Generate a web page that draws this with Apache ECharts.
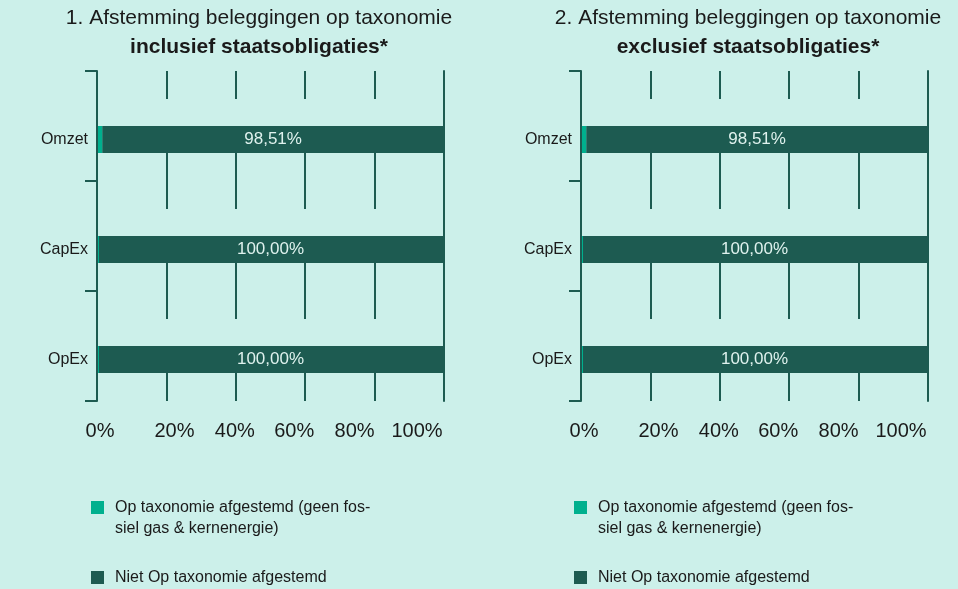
<!DOCTYPE html>
<html>
<head>
<meta charset="utf-8">
<script src="https://cdn.jsdelivr.net/npm/echarts@6/dist/echarts.min.js"></script>
<style>
html,body{margin:0;padding:0;background:#ccf0ea;}
#c{width:958px;height:589px;}
</style>
</head>
<body>
<div id="c"></div>
<script>
var categories = ['Omzet', 'CapEx', 'OpEx'];
var alignedIncl = [1.49, 0, 0];
var notAlignedIncl = [98.51, 100, 100];
var alignedExcl = [1.49, 0, 0];
var notAlignedExcl = [98.51, 100, 100];
var xTicks = [0, 20, 40, 60, 80, 100];
var panelTitles = [
  ['1. Afstemming beleggingen op taxonomie', 'inclusief staatsobligaties*'],
  ['2. Afstemming beleggingen op taxonomie', 'exclusief staatsobligaties*']
];
var seriesNames = ['Op taxonomie afgestemd (geen fossiel gas & kernenergie)', 'Niet Op taxonomie afgestemd'];
var legendLabels = ['Op taxonomie afgestemd (geen fos-\nsiel gas & kernenergie)', 'Niet Op taxonomie afgestemd'];

// label nudges (px) to mimic the source layout of the tick labels
var tickNudge = [3, 8, -1, -11, -20, -27];

var BG = '#ccf0ea', DARK = '#1d5b51', TEAL = '#00b08e', TXT = '#1a1a1a';
var FONT = '"Liberation Sans", Arial, sans-serif';
var fullScale = [];
categories.forEach(function(){ fullScale.push(xTicks[xTicks.length-1]); });

var tickRich = {};
tickNudge.forEach(function(d, k){
  tickRich['t' + k] = {fontSize:20, fontFamily:FONT, color:TXT,
    padding: d >= 0 ? [0, 0, 0, 2*d] : [0, -2*d, 0, 0]};
});

var chart = echarts.init(document.getElementById('c'), null, {renderer:'canvas'});

var grids = [{left:97, top:71, width:347, height:330}, {left:581, top:71, width:347, height:330}];
var xAxes = [], yAxes = [], series = [], legends = [], graphics = [];
var panels = [[alignedIncl, notAlignedIncl], [alignedExcl, notAlignedExcl]];
var centers = [259, 748];
var legendLeft = [91, 574];

panels.forEach(function(p, i){
  xAxes.push({
    type:'value', gridIndex:i, min:xTicks[0], max:xTicks[xTicks.length-1], interval:20,
    axisLine:{show:false}, axisTick:{show:false},
    splitLine:{show:true, lineStyle:{color:DARK, width:2}},
    axisLabel:{color:TXT, fontSize:20, fontFamily:FONT, margin:20, rich:tickRich,
      formatter:function(v){ var k = xTicks.indexOf(v); return '{t' + k + '|' + v + '%}'; }}
  });
  yAxes.push({
    type:'category', gridIndex:i, data:categories, inverse:true, z:10,
    axisLine:{show:true, lineStyle:{color:DARK, width:2}},
    axisTick:{show:true, length:12, lineStyle:{color:DARK, width:2}},
    axisLabel:{color:TXT, fontSize:16, fontFamily:FONT, margin:9, verticalAlign:'top', lineHeight:27}
  });
  yAxes.push({
    type:'category', gridIndex:i, data:categories, inverse:true, position:'right', z:10,
    axisLine:{show:true, lineStyle:{color:DARK, width:2}},
    axisTick:{show:false}, axisLabel:{show:false}
  });
  var yMain = i*2;
  series.push({
    type:'bar', name:'mask'+i, xAxisIndex:i, yAxisIndex:yMain, data:fullScale,
    barWidth:27, barGap:'0%', silent:true, itemStyle:{color:BG}, z:2
  });
  series.push({
    type:'bar', name:seriesNames[0], xAxisIndex:i, yAxisIndex:yMain, stack:'s'+i, data:p[0],
    barWidth:27, barGap:'0%', barMinHeight:2, itemStyle:{color:TEAL}, z:4
  });
  series.push({
    type:'bar', name:seriesNames[1], xAxisIndex:i, yAxisIndex:yMain, stack:'s'+i, data:p[1],
    barWidth:27, barGap:'0%', itemStyle:{color:DARK}, z:3,
    label:{show:true, position:'inside', color:'#dff2ee', fontSize:17, fontFamily:FONT,
      formatter:function(d){ return d.value.toFixed(2).replace('.', ',') + '%'; }}
  });
  legends.push({
    data:[seriesNames[0]], left:legendLeft[i], top:476, padding:0, orient:'vertical',
    icon:'rect', itemWidth:13, itemHeight:13, selectedMode:false,
    formatter:function(){ return '\n' + legendLabels[0]; },
    textStyle:{color:TXT, fontSize:16, fontFamily:FONT, lineHeight:21, padding:[0,0,0,6]},
    itemStyle:{color:TEAL}
  });
  legends.push({
    data:[seriesNames[1]], left:legendLeft[i], top:567, padding:0, orient:'vertical',
    icon:'rect', itemWidth:13, itemHeight:13, selectedMode:false,
    formatter:function(){ return legendLabels[1]; },
    textStyle:{color:TXT, fontSize:16, fontFamily:FONT, lineHeight:21, padding:[0,0,0,6]},
    itemStyle:{color:DARK}
  });
  graphics.push({
    type:'text', x:centers[i], y:4,
    style:{text:panelTitles[i][0] + '\n{b|' + panelTitles[i][1] + '}', align:'center', verticalAlign:'top',
      fill:TXT, font:'21px ' + FONT, lineHeight:29,
      rich:{b:{fontWeight:'bold', fontSize:21, fontFamily:FONT, lineHeight:29, fill:TXT}}}
  });
});

chart.setOption({
  backgroundColor:BG,
  animation:false,
  grid:grids,
  xAxis:xAxes,
  yAxis:yAxes,
  series:series,
  legend:legends,
  graphic:graphics
});
</script>
</body>
</html>
